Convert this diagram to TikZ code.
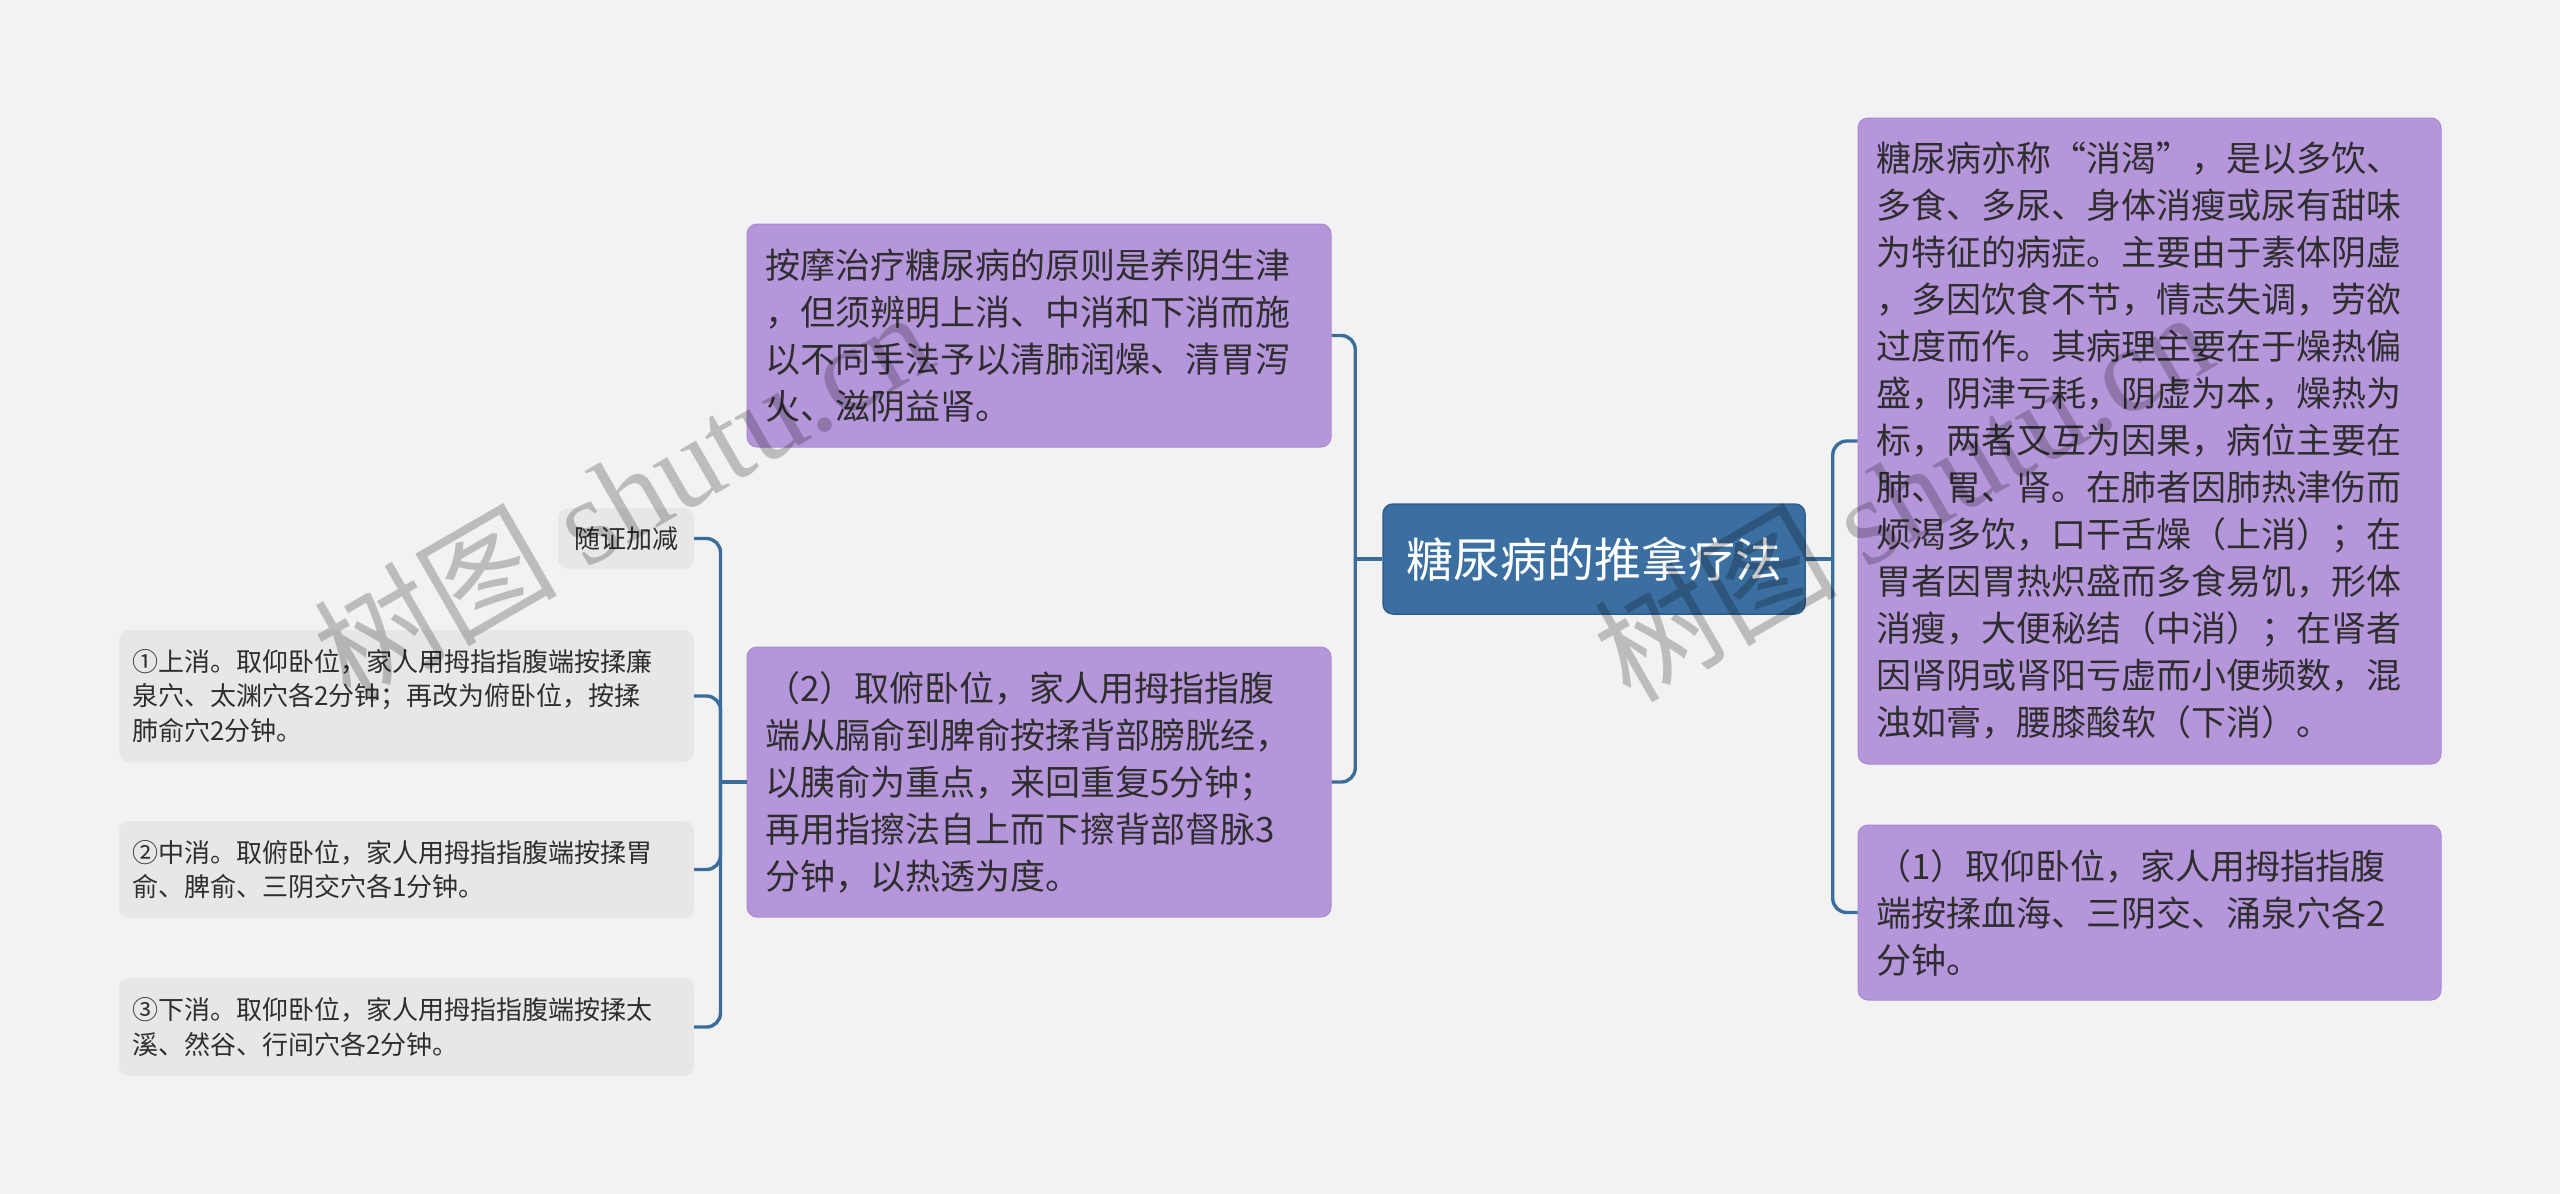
\documentclass[tikz,border=0pt]{standalone}
\usepackage{fontspec}
\setmainfont{Noto Sans CJK SC}
\newfontfamily\wmserif{Liberation Serif}
\definecolor{bg}{HTML}{F2F2F2}
\definecolor{purp}{HTML}{B696DB}
\definecolor{purpline}{HTML}{A988D1}
\definecolor{rootfill}{HTML}{3B6FA1}
\definecolor{rootline}{HTML}{2F5E8B}
\definecolor{grayfill}{HTML}{E7E7E7}
\definecolor{linkc}{HTML}{3A6D9C}
\definecolor{txt}{HTML}{2E2E2E}
\begin{document}
\begin{tikzpicture}[x=1pt,y=-1pt,
  box/.style={rectangle, rounded corners=10pt, inner ysep=0pt, align=left, text=txt},
  purplebox/.style={box, fill=purp, draw=purpline, line width=1pt, inner xsep=18pt,
    font=\fontsize{35}{47}\selectfont},
  graybox/.style={box, fill=grayfill, inner xsep=13pt, font=\fontsize{26}{34.5}\selectfont},
  rootbox/.style={box, fill=rootfill, draw=rootline, line width=1.5pt, text=white,
    align=center, inner xsep=10pt, font=\fontsize{47}{56}\selectfont},
  linkline/.style={draw=linkc, line width=3.4pt, rounded corners=14pt},
  wm/.style={text=black, text opacity=0.22, font=\fontsize{122}{122}\selectfont,
    rotate=30, anchor=base west, inner sep=0pt}
]
\fill[bg] (0,0) rectangle (2560,1194);
\useasboundingbox (0,0) rectangle (2560,1194);

% root
\node[rootbox, minimum width=422pt, minimum height=110pt] (root) at (1594,559) {糖尿病的推拿疗法};

% middle left nodes
\node[purplebox, minimum width=584pt, minimum height=223pt, text width=548pt] (m1) at (1039,335.5) {%
按摩治疗糖尿病的原则是养阴生津\\
，但须辨明上消、中消和下消而施\\
以不同手法予以清肺润燥、清胃泻\\
火、滋阴益肾。};

\node[purplebox, minimum width=584pt, minimum height=270pt, text width=548pt] (m2) at (1039,782) {%
（2）取俯卧位，家人用拇指指腹\\
端从膈俞到脾俞按揉背部膀胱经，\\
以胰俞为重点，来回重复5分钟；\\
再用指擦法自上而下擦背部督脉3\\
分钟，以热透为度。};

% right nodes
\node[purplebox, minimum width=583pt, minimum height=646pt, text width=547pt] (r1) at (2149.5,441) {%
糖尿病亦称“消渴”，是以多饮、\\
多食、多尿、身体消瘦或尿有甜味\\
为特征的病症。主要由于素体阴虚\\
，多因饮食不节，情志失调，劳欲\\
过度而作。其病理主要在于燥热偏\\
盛，阴津亏耗，阴虚为本，燥热为\\
标，两者又互为因果，病位主要在\\
肺、胃、肾。在肺者因肺热津伤而\\
烦渴多饮，口干舌燥（上消）；在\\
胃者因胃热炽盛而多食易饥，形体\\
消瘦，大便秘结（中消）；在肾者\\
因肾阴或肾阳亏虚而小便频数，混\\
浊如膏，腰膝酸软（下消）。};

\node[purplebox, minimum width=583pt, minimum height=175pt, text width=547pt] (r2) at (2149.5,912.5) {%
（1）取仰卧位，家人用拇指指腹\\
端按揉血海、三阴交、涌泉穴各2\\
分钟。};

% left leaves
\node[graybox, minimum width=136pt, minimum height=61pt, align=center] (l0) at (626,538.5) {随证加减};

\node[graybox, minimum width=575pt, minimum height=132pt, text width=549pt] (l1) at (406.5,696) {%
①上消。取仰卧位，家人用拇指指腹端按揉廉\\
泉穴、太渊穴各2分钟；再改为俯卧位，按揉\\
肺俞穴2分钟。};

\node[graybox, minimum width=575pt, minimum height=97pt, text width=549pt] (l2) at (406.5,869.5) {%
②中消。取俯卧位，家人用拇指指腹端按揉胃\\
俞、脾俞、三阴交穴各1分钟。};

\node[graybox, minimum width=575pt, minimum height=98pt, text width=549pt] (l3) at (406.5,1027) {%
③下消。取仰卧位，家人用拇指指腹端按揉太\\
溪、然谷、行间穴各2分钟。};

% junctions
\coordinate (jl) at ([xshift=-27pt]root.west);
\coordinate (jr) at ([xshift=27pt]root.east);
\coordinate (jj) at ([xshift=-26pt]m2.west);

% connectors
\draw[linkline] (root.west) -- (jl);
\draw[linkline] (jl) |- (m1.east);
\draw[linkline] (jl) |- (m2.east);
\draw[linkline] (root.east) -- (jr);
\draw[linkline] (jr) |- (r1.west);
\draw[linkline] (jr) |- (r2.west);
\draw[linkline] (m2.west) -- (jj);
\draw[linkline] (jj) |- (l0.east);
\draw[linkline] (jj) |- (l1.east);
\draw[linkline] (jj) |- (l2.east);
\draw[linkline] (jj) |- (l3.east);

% watermarks
\node[wm] (wm1) at (350,705) {树图 {\wmserif shutu.cn}};
\node[wm] (wm2) at (1630,705) {树图 {\wmserif shutu.cn}};
\end{tikzpicture}
\end{document}
